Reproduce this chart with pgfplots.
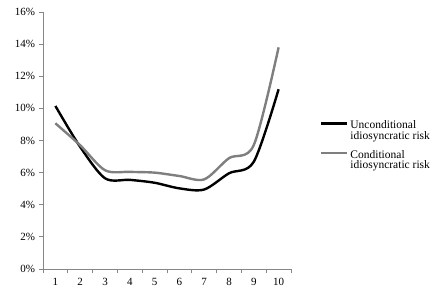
\documentclass[border=0pt]{standalone}
\usepackage{pgfplots}
\pgfplotsset{compat=1.18}
\usepackage{fontspec}
\setmainfont{Liberation Serif}
\definecolor{cgray}{HTML}{7F7F7F}
\definecolor{axgray}{HTML}{868686}
\begin{document}
\fontsize{11}{11}\selectfont
\begin{tikzpicture}
\begin{axis}[
  scale only axis, width=248pt, height=257pt,
  xmin=0.5, xmax=10.5, ymin=0, ymax=16,
  axis x line*=bottom, axis y line*=left,
  axis line style={draw=axgray, line width=0.8pt, -},
  xtick={1,...,10},
  minor xtick={0.5,1.5,...,10.5},
  major x tick style={draw=none},
  minor tick length=4pt,
  ytick={0,2,...,16},
  yticklabel={\pgfmathprintnumber{\tick}\%},
  tick style={draw=axgray, line width=0.8pt},
  major tick length=4pt,
  tick align=outside,
  xticklabel style={yshift=-1pt},
  tick label style={font=\fontsize{11}{12}\selectfont},
  /pgf/number format/assume math mode=true,
  legend style={at={(1.117,0.48)}, anchor=west, draw=none, fill=none,
    inner sep=0pt, outer sep=0pt,
    cells={align=left, anchor=west}, font=\fontsize{11.5}{10.5}\selectfont,
    row sep=5pt},
  legend image code/.code={\path[draw=none,fill=none] (0pt,-8pt) rectangle (26pt,8pt);\draw[#1] (0pt,7.5pt) -- (26pt,7.5pt);},
  clip=false,
]
\addplot[black, line width=2.4pt, smooth, tension=0.5] coordinates {
(1,10.15) (2,7.6) (3,5.65) (4,5.55) (5,5.37) (6,5.02) (7,4.95) (8,5.96) (9,6.68) (10,11.19)};
\addlegendentry{Unconditional\\idiosyncratic risk}
\addplot[cgray, line width=2.4pt, smooth, tension=0.5] coordinates {
(1,9.07) (2,7.7) (3,6.15) (4,6.05) (5,6.0) (6,5.79) (7,5.58) (8,6.9) (9,7.72) (10,13.8)};
\addlegendentry{Conditional\\idiosyncratic risk}
\end{axis}
\path (current axis.south west) ++(-43pt,-24pt) rectangle ++(435pt,293pt);
\end{tikzpicture}
\end{document}
